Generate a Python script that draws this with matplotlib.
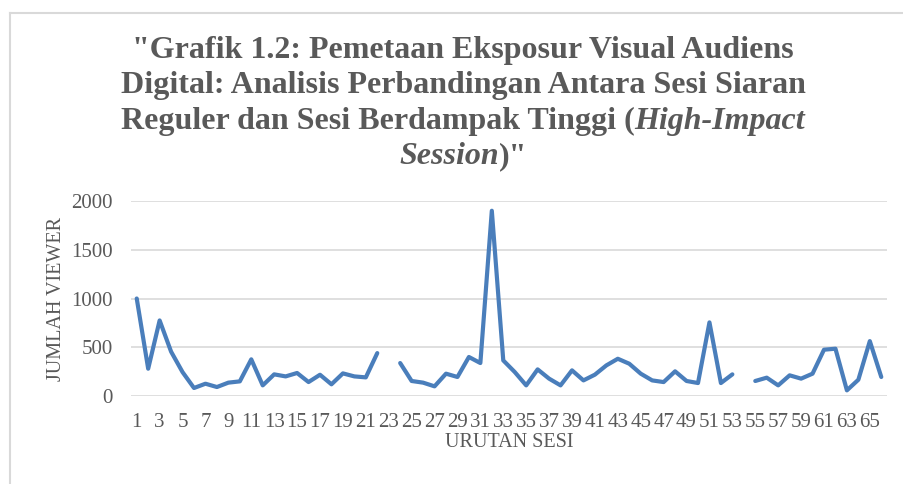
import numpy as np
import matplotlib.pyplot as plt
from matplotlib.lines import Line2D

# urutan sesi 1..66, NaN = sesi tanpa data (23, 54)
sesi = list(range(1, 67))
viewer = [1000, 280, 775, 455, 245, 82, 126, 92, 137, 150,
          376, 109, 222, 201, 236, 143, 218, 120, 232, 201,
          191, 440, np.nan, 338, 154, 137, 99, 229, 195, 400,
          338, 1900, 365, 246, 109, 273, 178, 109, 263, 160,
          219, 314, 382, 331, 229, 160, 143, 253, 154, 133,
          755, 133, 222, np.nan, 154, 188, 109, 212, 178, 229,
          475, 485, 58, 167, 563, 195]
xtick_labels = [str(s) if s % 2 == 1 else "" for s in sesi]

title_lines = [
    [('"Grafik 1.2: Pemetaan Eksposur Visual Audiens', 'normal')],
    [('Digital: Analisis Perbandingan Antara Sesi Siaran', 'normal')],
    [('Reguler dan Sesi Berdampak Tinggi (', 'normal'), ('High-Impact', 'italic')],
    [('Session', 'italic'), (')"', 'normal')],
]

grey = '#595959'
blue = '#4a7ebb'
serif = 'Liberation Serif'

fig = plt.figure(figsize=(9.04, 4.84), dpi=100)
ax = fig.add_axes([131 / 904, 1 - 396 / 484, 756 / 904, 195 / 484])

ax.plot(sesi, viewer, color=blue, lw=3.0, solid_joinstyle='round', solid_capstyle='round')
ax.set_xlim(0.5, 66.5)
ax.set_ylim(0, 2000)
ax.set_yticks([0, 500, 1000, 1500, 2000])
ax.set_xticks(sesi)
ax.set_xticklabels(xtick_labels)
ax.grid(axis='y', color='#d9d9d9', lw=1.2)
ax.set_axisbelow(True)
for s in ax.spines.values():
    s.set_visible(False)
ax.tick_params(length=0, labelsize=15, labelcolor=grey)
ax.tick_params(axis='y', pad=13)
ax.tick_params(axis='x', pad=12)
for lab in ax.get_xticklabels() + ax.get_yticklabels():
    lab.set_fontfamily(serif)
ax.set_xlabel('URUTAN SESI', fontsize=14.5, color=grey, family=serif, labelpad=1)
ax.set_ylabel('JUMLAH VIEWER', fontsize=14.5, color=grey, family=serif, labelpad=4)

# judul dengan bagian miring
renderer = fig.canvas.get_renderer()
baselines = [58, 93, 129, 164]
for parts, yp in zip(title_lines, baselines):
    texts = []
    for txt, style in parts:
        t = fig.text(0, 1 - yp / 484, txt, fontsize=23, fontweight='bold', style=style,
                     family=serif, color=grey, va='baseline', ha='left')
        texts.append(t)
    widths = [t.get_window_extent(renderer).width for t in texts]
    x0 = 463 - sum(widths) / 2
    for t, w in zip(texts, widths):
        t.set_x(x0 / 904)
        x0 += w

# bingkai area grafik
fig.add_artist(Line2D([10 / 904, 10 / 904], [0, 1 - 13 / 484], color='#d9d9d9', lw=1.5))
fig.add_artist(Line2D([10 / 904, 1], [1 - 13 / 484, 1 - 13 / 484], color='#d9d9d9', lw=1.5))

fig.savefig('out.png', dpi=100)
